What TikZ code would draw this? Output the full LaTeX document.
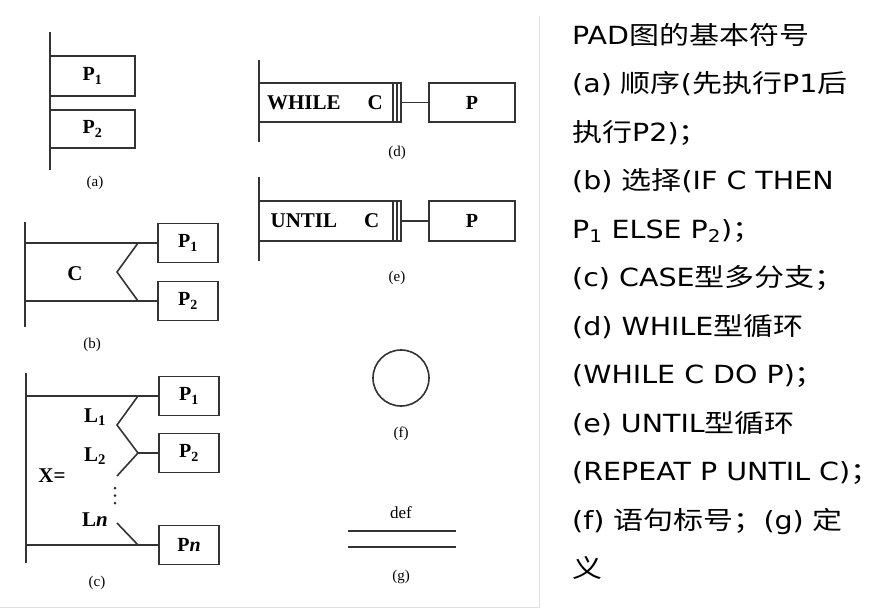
\documentclass[tikz,border=0pt]{standalone}
\usepackage{fontspec}
\setmainfont{Liberation Serif}
\newfontfamily\txtfont[FakeStretch=1.14]{DejaVu Sans}
\newfontfamily\cjk[FakeStretch=1.2]{Noto Sans CJK SC}
\newcommand\zh[1]{{\cjk #1}}

\begin{document}
\begin{tikzpicture}[x=1pt, y=-1pt,
    rail/.style={line width=2.4pt, black!80},
    edge/.style={line width=1.6pt, black!80},
    pbox/.style={draw=black!80, line width=1.6pt, outer sep=0pt, inner sep=0pt,
        minimum width=60pt, minimum height=39pt, font=\bfseries\fontsize{20}{22}\selectfont},
    lbl/.style={font=\bfseries\fontsize{21}{22}\selectfont, inner sep=0pt},
    sublabel/.style={font=\fontsize{15}{16}\selectfont},
    desc/.style={font=\txtfont\fontsize{25}{30}\selectfont, inner sep=0pt, anchor=base west}]
    \useasboundingbox (0,0) rectangle (892,608);
    \draw[black!12, line width=1pt] (539,16) -- (539,607) -- (0,607);

    % (a) sequence
    \draw[rail] (50,32) -- (50,170);
    \node[pbox, minimum width=85pt, minimum height=40pt, anchor=north west] (a1) at (50,56) {P\textsubscript{1}};
    \node[pbox, minimum width=85pt, minimum height=38pt, anchor=north west] (a2) at (50,110) {P\textsubscript{2}};
    \node[sublabel] (capa) at (95,183) {(a)};

    % (b) selection
    \draw[rail] (25,222) -- (25,327);
    \node[pbox] (b1) at (188,243) {P\textsubscript{1}};
    \node[pbox] (b2) at (188,301) {P\textsubscript{2}};
    \coordinate (bt) at (25,243);
    \coordinate (bb) at (25,301);
    \draw[edge] (bt) -- (b1.west);
    \draw[edge] (bb) -- (b2.west);
    \draw[edge] (138,243) -- (117,272) -- (138,301);
    \node[lbl] (bc) at (75,274) {C};
    \node[sublabel] (capb) at (92,345) {(b)};

    % (c) case
    \draw[rail] (26,373) -- (26,563);
    \node[pbox] (c1) at (189,396) {P\textsubscript{1}};
    \node[pbox] (c2) at (189,453) {P\textsubscript{2}};
    \node[pbox] (cn) at (189,545) {P\textit{n}};
    \coordinate (ct) at (26,396);
    \coordinate (cb) at (26,545);
    \draw[edge] (ct) -- (c1.west);
    \draw[edge] (cb) -- (cn.west);
    \draw[edge] (138,396) -- (117,425) -- (138,453) -- (117,476);
    \draw[edge] (138,453) -- (c2.west);
    \draw[edge] (117,523) -- (138,545);
    \foreach \y in {488,495.5,503}
        \fill[black!80] (115,\y) circle (1.5pt);
    \node[lbl] (cl1) at (95,417) {L\textsubscript{1}};
    \node[lbl] (cl2) at (95,456) {L\textsubscript{2}};
    \node[lbl] (cln) at (95,520) {L\textit{n}};
    \node[lbl] (cx) at (52,476) {X=};
    \node[sublabel] (capc) at (97,583) {(c)};

    % (d) while loop
    \draw[rail] (259,60) -- (259,142);
    \node[pbox, minimum width=142pt, anchor=west] (dw) at (259,102.5) {};
    \node[lbl] (dwt) at ([xshift=-5pt]dw.center) {WHILE\hspace{27pt}C};
    \draw[edge, line width=1.1pt] ([xshift=-8pt]dw.north east) -- ([xshift=-8pt]dw.south east);
    \draw[edge, line width=1.1pt] ([xshift=-4pt]dw.north east) -- ([xshift=-4pt]dw.south east);
    \node[pbox, minimum width=86pt] (dp) at (472,102.5) {P};
    \draw[edge] (dw.east) -- (dp.west);
    \node[sublabel] (capd) at (397,153) {(d)};

    % (e) until loop
    \draw[rail] (259,177) -- (259,261);
    \node[pbox, minimum width=142pt, minimum height=40pt, anchor=west] (ew) at (259,221) {};
    \node[lbl] (ewt) at ([xshift=-5pt]ew.center) {UNTIL\hspace{27pt}C};
    \draw[edge, line width=1.1pt] ([xshift=-8pt]ew.north east) -- ([xshift=-8pt]ew.south east);
    \draw[edge, line width=1.1pt] ([xshift=-4pt]ew.north east) -- ([xshift=-4pt]ew.south east);
    \node[pbox, minimum width=86pt, minimum height=40pt] (ep) at (472,221) {P};
    \draw[edge] (ew.east) -- (ep.west);
    \node[sublabel] (cape) at (397,278) {(e)};

    % (f) label, (g) definition
    \node[draw=black!80, circle, line width=1.6pt, minimum size=56pt] (fl) at (401,378) {};
    \node[sublabel] (capf) at (401,434) {(f)};
    \node[sublabel, font=\fontsize{17}{18}\selectfont] (gdef) at (401,513) {def};
    \draw[edge] (348,531) -- (456,531);
    \draw[edge] (348,547) -- (456,547);
    \node[sublabel] (capg) at (401,577) {(g)};

    % description text
    \foreach \t [count=\i from 0] in {
        {PAD\zh{图的基本符号}},
        {(a) \zh{顺序}(\zh{先执行}P1\zh{后}},
        {\zh{执行}P2)\zh{；}},
        {(b) \zh{选择}(IF C THEN},
        {P\textsubscript{1} ELSE P\textsubscript{2})\zh{；}},
        {(c) CASE\zh{型多分支；}},
        {(d) WHILE\zh{型循环}},
        {(WHILE C DO P)\zh{；}},
        {(e) UNTIL\zh{型循环}},
        {(REPEAT P UNTIL C)\zh{；}},
        {(f) \zh{语句标号；}(g) \zh{定}},
        {\zh{义}}}
        \node[desc] (t\i) at (572,44+48.5*\i) {\t};
\end{tikzpicture}
\end{document}
